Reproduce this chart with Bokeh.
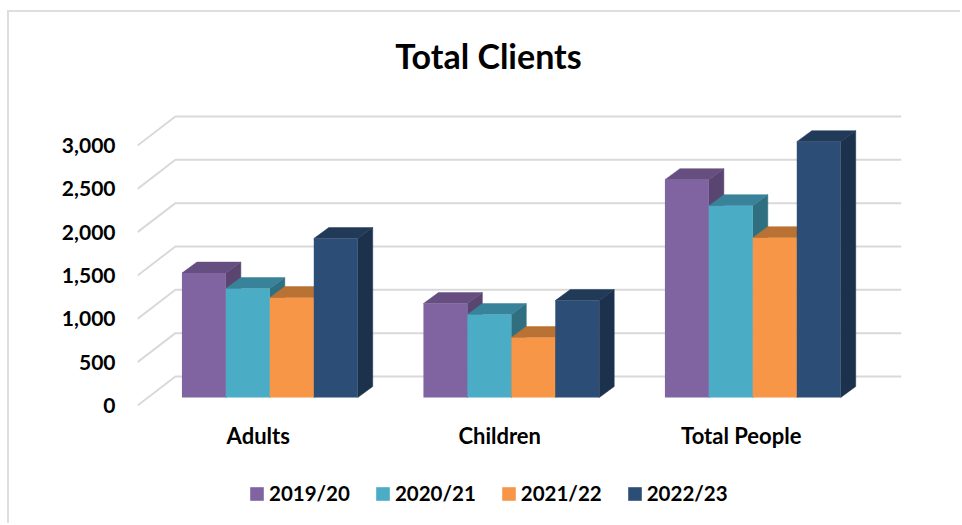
from bokeh.embed import file_html
from bokeh.resources import INLINE
from bokeh.plotting import figure
from bokeh.models import FixedTicker, NumeralTickFormatter, Label, Legend, LegendItem, Range1d

title_text = "Total Clients"
categories = ["Adults", "Children", "Total People"]
seasons = ["2019/20", "2020/21", "2021/22", "2022/23"]
v_2019 = [1436, 1084, 2514]
v_2020 = [1257, 957, 2214]
v_2021 = [1153, 692, 1845]
v_2022 = [1834, 1119, 2952]
y_ticks = [0, 500, 1000, 1500, 2000, 2500, 3000]
series = [v_2019, v_2020, v_2021, v_2022]

front = ["#8064A2", "#4BACC6", "#F79646", "#2C4D75"]
top = ["#664F80", "#38829A", "#B97233", "#213A58"]
side = ["#5A4570", "#2F6F80", "#A56228", "#1C314B"]

FONT = "Lato"
WALL_DX, WALL_DY = 0.157, 335      # depth of the floor/wall projection
PLANE_DX, PLANE_DY = 0.048, 92     # bars stand this far back on the floor
BAR_DX, BAR_DY = 0.062, 127        # depth of a bar
BAR_W = 0.182
X_END = 2.6636

# The frame fills the canvas height so the legend and title, placed inside it, are not clipped.
p = figure(width=953, height=513, output_backend="svg", toolbar_location=None, title=None,
           x_range=Range1d(-0.5, X_END), y_range=Range1d(-1269, 4535),
           min_border_left=128, min_border_right=61, min_border_top=0, min_border_bottom=10)
p.styles = {"border-top": "2px solid #dedede", "border-left": "2px solid #dedede",
            "margin-top": "10px", "margin-left": "7px"}
p.outline_line_color = None
p.background_fill_color = "white"
p.grid.visible = False

p.add_layout(Label(x=0.9534, y=4038, text=title_text, text_font=FONT, text_font_size="34px",
                   text_font_style="bold", text_color="black",
                   text_align="center", text_baseline="middle"))

for ax in (p.xaxis[0], p.yaxis[0]):
    ax.axis_line_color = None
    ax.major_tick_line_color = None
    ax.minor_tick_line_color = None
    ax.major_label_text_font = FONT
    ax.major_label_text_font_style = "bold"
    ax.major_label_text_color = "black"
p.yaxis[0].major_label_text_font_size = "21px"
p.xaxis[0].major_label_text_font_size = "22px"
p.yaxis[0].ticker = FixedTicker(ticks=y_ticks)
p.yaxis[0].formatter = NumeralTickFormatter(format="0,0")
p.yaxis[0].major_label_standoff = 16
p.xaxis[0].ticker = FixedTicker(ticks=[0, 1, 2])
p.xaxis[0].major_label_overrides = {i: c for i, c in enumerate(categories)}
p.xaxis[0].major_label_standoff = 10
p.xaxis[0].fixed_location = 0

# wall and floor lines
x0 = -0.5
p.multi_line([[x0, x0 + WALL_DX, X_END] for _ in y_ticks],
             [[t, t + WALL_DY, t + WALL_DY] for t in y_ticks],
             line_color="#d9d9d9", line_width=2)

items = []
for s, vals in enumerate(series):
    cx = [i + PLANE_DX + (s - 2 + 0.5) * BAR_W for i in range(len(vals))]
    l = [c - BAR_W / 2 for c in cx]
    r = [c + BAR_W / 2 for c in cx]
    tops = [v + PLANE_DY for v in vals]
    p.patches([[b, b + BAR_DX, b + BAR_DX, b] for b in r],
              [[PLANE_DY, PLANE_DY + BAR_DY, t + BAR_DY, t] for t in tops],
              fill_color=side[s], line_color=side[s], line_width=0.5)
    p.patches([[a, a + BAR_DX, b + BAR_DX, b] for a, b in zip(l, r)],
              [[t, t + BAR_DY, t + BAR_DY, t] for t in tops],
              fill_color=top[s], line_color=top[s], line_width=0.5)
    bar = p.vbar(x=cx, width=BAR_W, bottom=PLANE_DY, top=tops, fill_color=front[s], line_color=None)
    items.append(LegendItem(label=seasons[s], renderers=[bar]))

legend = Legend(items=items, orientation="horizontal", location=(111, 10),
                glyph_width=17, glyph_height=17, label_standoff=4, spacing=24,
                label_text_font=FONT, label_text_font_style="bold", label_text_font_size="20.5px",
                label_text_color="black", border_line_color=None, background_fill_alpha=0,
                margin=0, padding=0)
p.add_layout(legend)

open("out.html", "w").write(file_html(p, INLINE))
